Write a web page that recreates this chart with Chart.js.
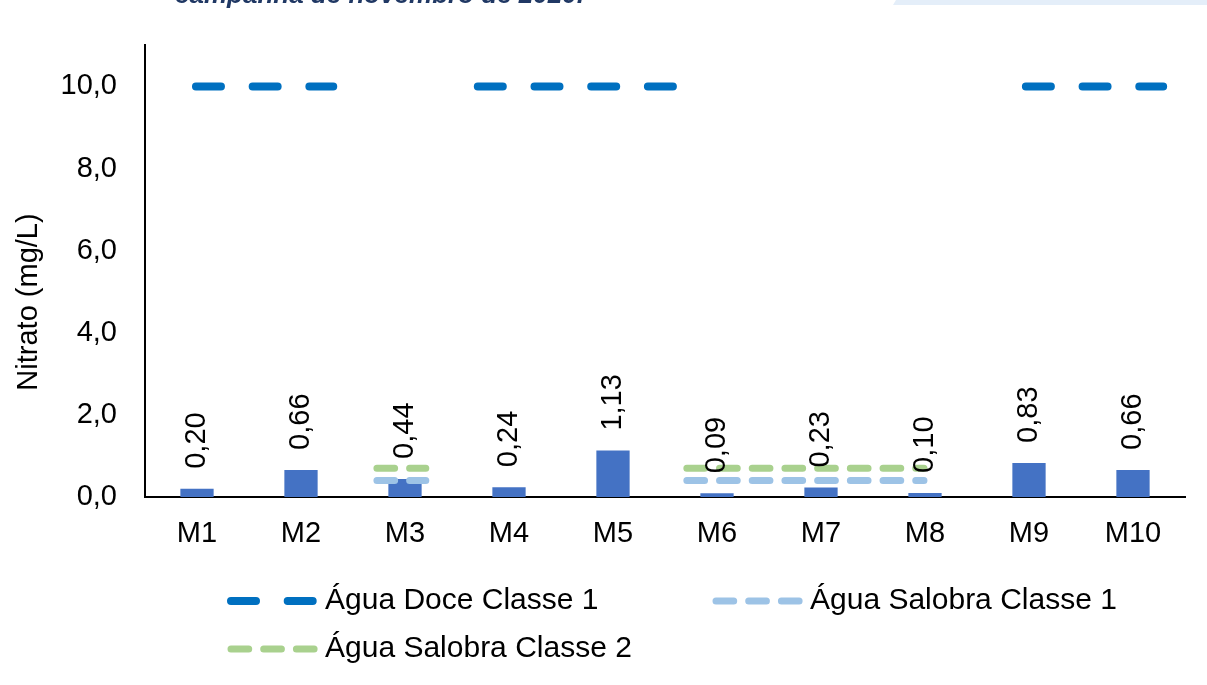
<!DOCTYPE html>
<html lang="pt-BR">
<head>
<meta charset="utf-8">
<title>Nitrato - campanha de novembro de 2020</title>
<script src="https://cdn.jsdelivr.net/npm/chart.js@4.4.1/dist/chart.umd.min.js"></script>
<style>
  html, body { margin: 0; padding: 0; background: #fff; }
  body { width: 1207px; height: 685px; position: relative; overflow: hidden; }
  #wrap { position: absolute; left: 0; top: 0; width: 1207px; height: 685px; }
  #legenda-topo {
    position: absolute; left: 175px; top: -19px;
    font: italic bold 26px/1 "Liberation Sans", Arial, sans-serif;
    color: #203864; white-space: nowrap;
  }
  #faixa {
    position: absolute; left: 893px; top: 0; width: 314px; height: 5px;
    background: #e4eef9;
    clip-path: polygon(3px 0, 100% 0, 100% 100%, 0 100%);
  }
</style>
</head>
<body>
<div id="wrap"><canvas id="nitratoChart"></canvas></div>
<div id="legenda-topo">campanha de novembro de 2020.</div>
<div id="faixa"></div>

<script>
// Dados
const categorias = ['M1', 'M2', 'M3', 'M4', 'M5', 'M6', 'M7', 'M8', 'M9', 'M10'];
const nitrato = [0.20, 0.66, 0.44, 0.24, 1.13, 0.09, 0.23, 0.10, 0.83, 0.66];
const yTicks = [0, 2, 4, 6, 8, 10];

// Limites de referência (mg/L)
const limiteDoceC1 = 10.0;
const limiteSalobraC1 = 0.40;
const limiteSalobraC2 = 0.70;

// Trechos das linhas de referência, em unidades de categoria (1 = M1 ... 10 = M10)
const trechosDoce = [[0.99, 2.31], [3.70, 5.58], [8.97, 10.29]];
const trechosSalobra = [[2.73, 3.20], [5.71, 7.99]];

const FONTE = '"Liberation Sans", Arial, sans-serif';
const fmt = (v, casas) => v.toFixed(casas).replace('.', ',');

// monta pontos {x, y} com um ponto nulo entre trechos para quebrar a linha
function montaLinha(trechos, valor) {
    const pts = [];
    trechos.forEach(([a, b], i) => {
        if (i > 0) pts.push({ x: (trechos[i - 1][1] + a) / 2, y: null });
        pts.push({ x: a, y: valor }, { x: b, y: valor });
    });
    return pts;
}

// Rótulos verticais acima das barras
const rotulosBarras = {
    id: 'rotulosBarras',
    afterDatasetsDraw(chart) {
        const ctx = chart.ctx;
        const meta = chart.getDatasetMeta(0);
        ctx.save();
        ctx.font = '29px ' + FONTE;
        ctx.fillStyle = '#000';
        ctx.textAlign = 'left';
        ctx.textBaseline = 'middle';
        meta.data.forEach((bar, i) => {
            ctx.save();
            ctx.translate(bar.x, bar.y - 20);
            ctx.rotate(-Math.PI / 2);
            ctx.fillText(fmt(nitrato[i], 2), 0, 0);
            ctx.restore();
        });
        ctx.restore();
    }
};

// Título do eixo Y (posição igual à do original, um pouco abaixo do centro)
const tituloEixoY = {
    id: 'tituloEixoY',
    afterDraw(chart) {
        const ctx = chart.ctx;
        ctx.save();
        ctx.translate(29, 302);
        ctx.rotate(-Math.PI / 2);
        ctx.font = '29px ' + FONTE;
        ctx.fillStyle = '#000';
        ctx.textAlign = 'center';
        ctx.textBaseline = 'middle';
        ctx.fillText('Nitrato (mg/L)', 0, 0);
        ctx.restore();
    }
};

// Legenda em duas colunas, usando o estilo de cada série
const legendaItens = [
    { ds: 1, x: 231, y: 601, texto: 325 },
    { ds: 2, x: 716, y: 601, texto: 810 },
    { ds: 3, x: 231, y: 649, texto: 325 }
];
const legendaCustom = {
    id: 'legendaCustom',
    afterDraw(chart) {
        const ctx = chart.ctx;
        legendaItens.forEach(item => {
            const ds = chart.data.datasets[item.ds];
            ctx.save();
            ctx.strokeStyle = ds.borderColor;
            ctx.lineWidth = ds.borderWidth;
            ctx.lineCap = 'round';
            ctx.setLineDash(ds.borderDash);
            ctx.beginPath();
            ctx.moveTo(item.x, item.y);
            ctx.lineTo(item.x + 86, item.y);
            ctx.stroke();
            ctx.setLineDash([]);
            ctx.font = '30px ' + FONTE;
            ctx.fillStyle = '#000';
            ctx.textAlign = 'left';
            ctx.textBaseline = 'middle';
            ctx.fillText(ds.label, item.texto, item.y);
            ctx.restore();
        });
    }
};

const ctx = document.getElementById('nitratoChart');

new Chart(ctx, {
    type: 'bar',
    data: {
        labels: categorias,
        datasets: [
            {
                label: 'Nitrato',
                data: nitrato,
                xAxisID: 'x',
                yAxisID: 'y',
                backgroundColor: '#4472c4',
                categoryPercentage: 1,
                barPercentage: 0.32,
                grouped: false,
                order: 2
            },
            {
                type: 'line',
                label: 'Água Doce Classe 1',
                data: montaLinha(trechosDoce, limiteDoceC1),
                xAxisID: 'xl',
                yAxisID: 'y',
                borderColor: '#0070c0',
                borderWidth: 8,
                borderDash: [25, 31.7],
                borderCapStyle: 'round',
                pointRadius: 0,
                spanGaps: false,
                fill: false,
                order: 1
            },
            {
                type: 'line',
                label: 'Água Salobra Classe 1',
                data: montaLinha(trechosSalobra, limiteSalobraC1),
                xAxisID: 'xl',
                yAxisID: 'y',
                borderColor: '#9dc3e6',
                borderWidth: 7,
                borderDash: [17.7, 15],
                borderCapStyle: 'round',
                pointRadius: 0,
                spanGaps: false,
                fill: false,
                order: 1
            },
            {
                type: 'line',
                label: 'Água Salobra Classe 2',
                data: montaLinha(trechosSalobra, limiteSalobraC2),
                xAxisID: 'xl',
                yAxisID: 'y',
                borderColor: '#a9d18e',
                borderWidth: 7,
                borderDash: [17.7, 15],
                borderCapStyle: 'round',
                pointRadius: 0,
                spanGaps: false,
                fill: false,
                order: 1
            }
        ]
    },
    options: {
        responsive: true,
        maintainAspectRatio: false,
        animation: false,
        layout: { padding: { top: 43, right: 22, left: 0, bottom: 0 } },
        plugins: {
            legend: { display: false },
            tooltip: { enabled: false }
        },
        scales: {
            x: {
                type: 'category',
                offset: true,
                grid: { display: false, drawTicks: false },
                border: { color: '#000', width: 2 },
                ticks: { color: '#000', font: { family: FONTE, size: 29 }, padding: 20, maxRotation: 0 },
                afterFit: (s) => { s.height = 188; }
            },
            xl: {
                type: 'linear',
                display: false,
                offset: false,
                bounds: 'ticks',
                min: 0.5,
                max: 10.5,
                grid: { offset: false }
            },
            y: {
                min: 0,
                max: 11,
                grid: { display: false, drawTicks: false },
                border: { color: '#000', width: 2 },
                ticks: {
                    color: '#000',
                    font: { family: FONTE, size: 29 },
                    padding: 28,
                    callback: (v) => fmt(v, 1)
                },
                afterBuildTicks: (s) => { s.ticks = yTicks.map(v => ({ value: v })); },
                afterFit: (s) => { s.width = 145; }
            }
        }
    },
    plugins: [rotulosBarras, tituloEixoY, legendaCustom]
});
</script>
</body>
</html>
